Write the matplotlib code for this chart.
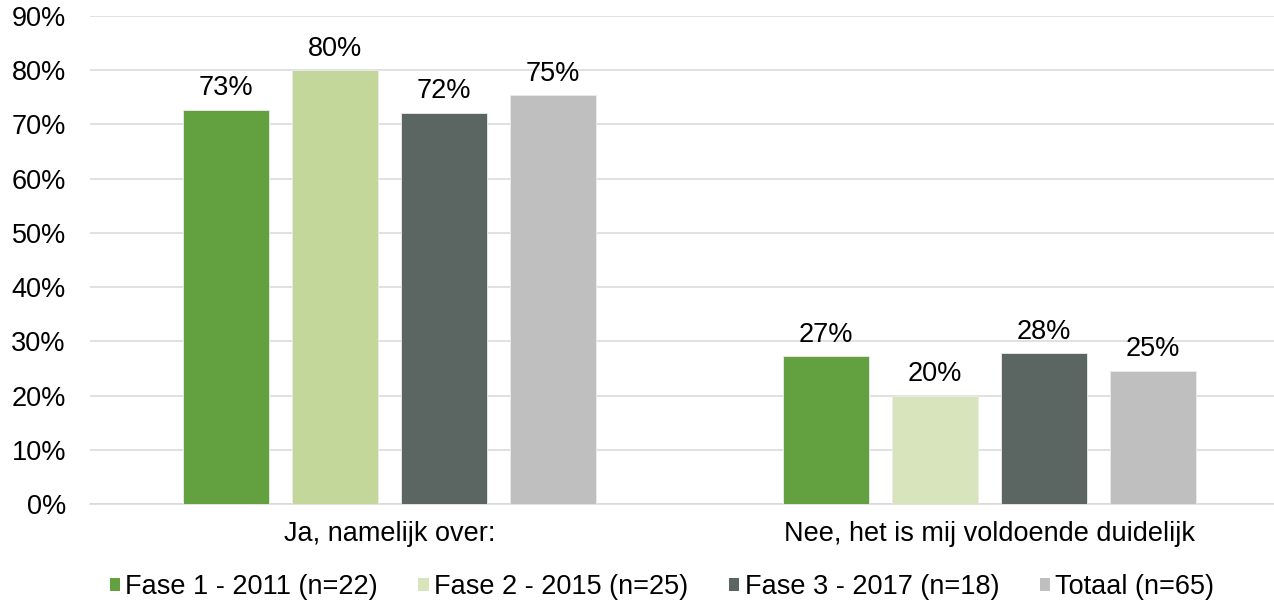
import matplotlib
matplotlib.use("Agg")
import matplotlib.pyplot as plt
from matplotlib.patches import Patch
import numpy as np

plt.rcParams['font.family'] = ['Liberation Sans', 'DejaVu Sans']

categories = ["Ja, namelijk over:", "Nee, het is mij voldoende duidelijk"]
series = ["Fase 1 - 2011 (n=22)", "Fase 2 - 2015 (n=25)", "Fase 3 - 2017 (n=18)", "Totaal (n=65)"]
values = [
    [72.7, 27.3],
    [80.0, 20.0],
    [72.2, 27.8],
    [75.4, 24.6],
]
bar_colors = [
    ["#63A040", "#63A040"],
    ["#C4D79B", "#D8E4BC"],
    ["#5B6663", "#5B6663"],
    ["#BFBFBF", "#BFBFBF"],
]
legend_colors = ["#63A040", "#D8E4BC", "#5B6663", "#BFBFBF"]
yticks = [0, 10, 20, 30, 40, 50, 60, 70, 80, 90]

W, H = 1274, 605
fig = plt.figure(figsize=(W / 100, H / 100), dpi=100)
ax = fig.add_axes([89.5 / W, 1 - 504 / H, 1200 / W, 488 / H])

x = np.arange(len(categories))
step = 109 / 600
bw = 86 / 600
fs = 19.5
for i, s in enumerate(series):
    xs = x + (i - 1.5) * step
    bars = ax.bar(xs, values[i], width=bw, color=bar_colors[i], edgecolor="#ececec", linewidth=0.6, zorder=3)
    for b, v in zip(bars, values[i]):
        ax.annotate(f"{v:.0f}%", (b.get_x() + b.get_width() / 2, v), xytext=(0, 6),
                    textcoords="offset points", ha="center", va="bottom", fontsize=fs, color="#000000")

ax.set_xlim(-0.5, 1.5)
ax.set_ylim(0, 90)
ax.set_yticks(yticks)
ax.set_yticklabels([f"{t}%" for t in yticks])
ax.set_xticks(x)
ax.set_xticklabels(categories)
ax.tick_params(axis="y", length=0, pad=17, labelsize=fs, colors="#000000")
ax.tick_params(axis="x", length=0, pad=12.5, labelsize=fs, colors="#000000")
ax.grid(axis="y", color="#d9d9d9", linewidth=1.1, zorder=0)
ax.set_axisbelow(True)
for sp in ["top", "right", "left"]:
    ax.spines[sp].set_visible(False)
ax.spines["bottom"].set_color("#d9d9d9")
ax.spines["bottom"].set_linewidth(1.1)

handles = [Patch(facecolor=c, edgecolor="none") for c in legend_colors]
fig.legend(handles, series, loc="center", bbox_to_anchor=(662 / W, 1 - 587 / H), ncol=4,
           frameon=False, fontsize=fs, handlelength=0.38, handleheight=0.38,
           handletextpad=0.2, columnspacing=1.5, borderaxespad=0)

fig.savefig("out.png", dpi=100)
